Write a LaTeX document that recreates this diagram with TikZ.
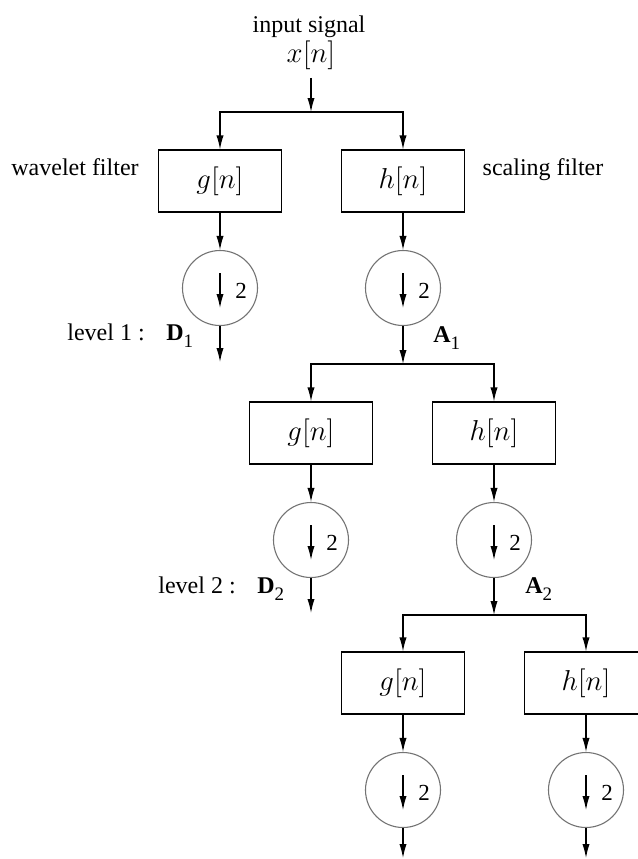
\documentclass[tikz,border=0pt]{standalone}
\usepackage{fontspec}
\setmainfont{Liberation Serif}
\usetikzlibrary{arrows.meta}
\begin{document}
\begin{tikzpicture}[x=0.5pt,y=-0.5pt,
  arr/.style={-{Latex[length=7pt,width=3.6pt]}, line width=0.6pt},
  filt/.style={draw, line width=0.6pt, minimum width=61.5pt, minimum height=31pt, inner sep=0pt, font=\Large},
  down/.style={circle, draw=black!55, line width=0.55pt, minimum size=37.5pt, inner sep=0pt},
  lab/.style={font=\fontsize{12}{14}\selectfont, inner sep=0pt},
  two/.style={font=\fontsize{11.5}{13}\selectfont, inner sep=0pt},
]
\useasboundingbox (0,0) rectangle (638,859);

% input
\node[lab, anchor=base] (inp) at (309,32) {input signal};
\node[inner sep=1pt, font=\Large] (xn) at (311,55) {$x[n]$};

% side labels
\node[lab, anchor=base] (wf) at (75,175) {wavelet filter};
\node[lab, anchor=base] (sf) at (543,175) {scaling filter};

% filter stages
\foreach \i/\gx/\hx/\fy/\cy in {1/220/403/181/288, 2/311/494/433/540, 3/403/586/683/790}{
  \node[filt] (g\i) at (\gx,\fy) {$g[n]$};
  \node[filt] (h\i) at (\hx,\fy) {$h[n]$};
  \node[down] (cg\i) at (\gx,\cy) {};
  \node[down] (ch\i) at (\hx,\cy) {};
  \node[two] (tg\i) at ([xshift=10.5pt,yshift=-1.2pt]cg\i.center) {2};
  \node[two] (th\i) at ([xshift=10.5pt,yshift=-1.2pt]ch\i.center) {2};
  \draw[arr] ([yshift=7.5pt]cg\i.center) -- ([yshift=-10pt]cg\i.center);
  \draw[arr] ([yshift=7.5pt]ch\i.center) -- ([yshift=-10pt]ch\i.center);
  \draw[arr] (g\i) -- (cg\i);
  \draw[arr] (h\i) -- (ch\i);
}

% branch points and outputs
\coordinate (br1) at (311,112);
\coordinate (br2) at (403,364);
\coordinate (br3) at (494,615);
\coordinate (d1e) at (220,362);
\coordinate (d2e) at (311,613);
\coordinate (d3e) at (403,858);
\coordinate (a3e) at (586,858);

\draw[arr, shorten <=3pt] (xn) -- (br1);
\draw[arr] (br1) -| (g1);
\draw[arr] (br1) -| (h1);
\draw[arr] (cg1) -- (d1e);
\draw[arr] (ch1) -- (br2);
\draw[arr] (br2) -| (g2);
\draw[arr] (br2) -| (h2);
\draw[arr] (cg2) -- (d2e);
\draw[arr] (ch2) -- (br3);
\draw[arr] (br3) -| (g3);
\draw[arr] (br3) -| (h3);
\draw[arr] (cg3) -- (d3e);
\draw[arr] (ch3) -- (a3e);

% level labels
\node[lab, anchor=base west] (l1) at (67,340) {level 1 :};
\node[lab, anchor=base west] (d1) at (166,340) {\textbf{D}\raisebox{-3.5pt}{\fontsize{9.5}{10}\selectfont 1}};
\node[lab, anchor=base west] (a1) at (433,342) {\textbf{A}\raisebox{-3.5pt}{\fontsize{9.5}{10}\selectfont 1}};
\node[lab, anchor=base west] (l2) at (158,593) {level 2 :};
\node[lab, anchor=base west] (d2) at (257,593) {\textbf{D}\raisebox{-3.5pt}{\fontsize{9.5}{10}\selectfont 2}};
\node[lab, anchor=base west] (a2) at (525,593) {\textbf{A}\raisebox{-3.5pt}{\fontsize{9.5}{10}\selectfont 2}};
\end{tikzpicture}
\end{document}
